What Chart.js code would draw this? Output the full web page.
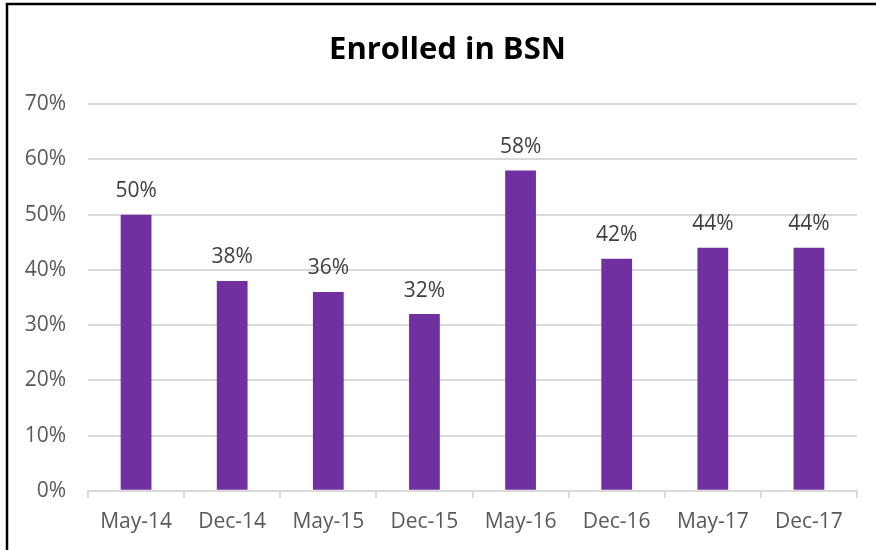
<!DOCTYPE html>
<html>
<head>
<meta charset="utf-8">
<script src="https://cdn.jsdelivr.net/npm/chart.js@4.4.0/dist/chart.umd.min.js"></script>
<style>
  html, body { margin: 0; padding: 0; background: #fff; }
  #wrap { width: 876px; height: 550px; position: relative; }
</style>
</head>
<body>
<div id="wrap"><canvas id="bsnChart" width="876" height="550"></canvas></div>
<script>
// chart data
const periods = ['May-14', 'Dec-14', 'May-15', 'Dec-15', 'May-16', 'Dec-16', 'May-17', 'Dec-17'];
const enrolledPct = [50, 38, 36, 32, 58, 42, 44, 44];
const yTicks = [0, 10, 20, 30, 40, 50, 60, 70];

const FONT = "'Open Sans', 'Liberation Sans', sans-serif";

// outer frame (only top and left edges are visible in the original)
const framePlugin = {
    id: 'frame',
    afterLayout(chart) {
        // the original title sits a little right of the box centre
        if (chart.titleBlock) {
            chart.titleBlock.left += 28;
        }
    },
    afterDraw(chart) {
        const ctx = chart.ctx;
        ctx.save();
        ctx.strokeStyle = '#000';
        ctx.lineWidth = 2.5;
        ctx.beginPath();
        ctx.moveTo(7, chart.height);
        ctx.lineTo(7, 4);
        ctx.lineTo(chart.width, 4);
        ctx.stroke();
        ctx.restore();
    }
};

// value labels above each bar
const barLabels = {
    id: 'barLabels',
    afterDatasetsDraw(chart) {
        const ctx = chart.ctx;
        const meta = chart.getDatasetMeta(0);
        ctx.save();
        ctx.font = `21px ${FONT}`;
        ctx.fillStyle = '#404040';
        ctx.textAlign = 'center';
        ctx.textBaseline = 'bottom';
        meta.data.forEach((bar, i) => {
            ctx.fillText(enrolledPct[i] + '%', bar.x, bar.y - 13);
        });
        ctx.restore();
    }
};

new Chart(document.getElementById('bsnChart'), {
    type: 'bar',
    data: {
        labels: periods,
        datasets: [{
            label: 'Enrolled in BSN',
            data: enrolledPct,
            backgroundColor: '#7030A0',
            borderWidth: 0,
            categoryPercentage: 1,
            barPercentage: 0.32
        }]
    },
    options: {
        responsive: false,
        animation: false,
        devicePixelRatio: 1,
        layout: { padding: { left: 10, right: 19, top: 0, bottom: 3 } },
        plugins: {
            legend: { display: false },
            tooltip: { enabled: false },
            title: {
                display: true,
                text: 'Enrolled in BSN',
                color: '#000',
                font: { family: FONT, size: 31, weight: 'bold' },
                padding: { top: 32, bottom: 35 }
            }
        },
        scales: {
            x: {
                grid: {
                    drawOnChartArea: false,
                    drawTicks: true,
                    tickLength: 7,
                    color: '#d9d9d9',
                    lineWidth: 2
                },
                border: { color: '#d9d9d9', width: 2 },
                ticks: {
                    color: '#595959',
                    font: { family: FONT, size: 21 },
                    padding: 12,
                    maxRotation: 0
                }
            },
            y: {
                min: 0,
                max: 70,
                afterBuildTicks(scale) {
                    scale.ticks = yTicks.map(v => ({ value: v }));
                },
                afterFit(scale) { scale.width = 78; },
                grid: {
                    color: '#d9d9d9',
                    lineWidth: 2,
                    drawTicks: false
                },
                border: { display: false },
                ticks: {
                    color: '#595959',
                    font: { family: FONT, size: 21 },
                    padding: 22,
                    callback: v => v + '%'
                }
            }
        }
    },
    plugins: [framePlugin, barLabels]
});
</script>
</body>
</html>
